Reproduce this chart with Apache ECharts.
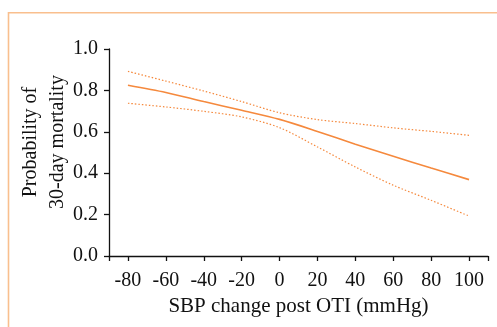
<!DOCTYPE html>
<html>
<head>
<meta charset="utf-8">
<script src="https://cdn.jsdelivr.net/npm/echarts@6/dist/echarts.min.js"></script>
<style>
  html, body { margin: 0; padding: 0; background: #fff; }
  #chart { width: 497px; height: 327px; }
</style>
</head>
<body>
<div id="chart"></div>
<script>
const sbpChange = [-80, -60, -40, -20, 0, 20, 40, 60, 80, 100];
const probability = [0.825, 0.790, 0.746, 0.704, 0.660, 0.602, 0.540, 0.482, 0.425, 0.369];
const upperCI = [0.892, 0.845, 0.797, 0.746, 0.692, 0.659, 0.640, 0.619, 0.602, 0.583];
const lowerCI = [0.738, 0.720, 0.699, 0.672, 0.620, 0.527, 0.430, 0.342, 0.269, 0.193];
const xTicks = [-90, -80, -60, -40, -20, 0, 20, 40, 60, 80, 100, 110];
const xLabels = [-80, -60, -40, -20, 0, 20, 40, 60, 80, 100];

const lineColor = '#f5893d';
const font = 'Liberation Serif';

const pairs = (ys) => sbpChange.map((x, i) => [x, ys[i]]);

const chart = echarts.init(document.getElementById('chart'));

chart.setOption({
  animation: false,
  backgroundColor: '#fff',
  grid: { left: 109, right: 9, top: 49, bottom: 71 },
  graphic: [
    // frame (top + left edge)
    {
      type: 'polyline',
      shape: { points: [[8.5, 327], [8.5, 12.7], [497, 12.7]] },
      style: { stroke: '#f9bf8e', lineWidth: 1.6, fill: null }
    },
    {
      type: 'text',
      x: 17, y: 142, rotation: Math.PI / 2,
      style: {
        text: 'Probability of\n30-day mortality',
        font: '20px "' + font + '"',
        fill: '#111',
        align: 'center',
        verticalAlign: 'top',
        lineHeight: 27
      }
    }
  ],
  xAxis: {
    type: 'value',
    min: -90,
    max: 110,
    splitLine: { show: false },
    axisLine: { onZero: false, lineStyle: { color: '#111', width: 1.3 } },
    axisTick: { customValues: xTicks, length: 5, lineStyle: { color: '#111', width: 1.3 } },
    axisLabel: {
      customValues: xLabels,
      color: '#111', fontFamily: font, fontSize: 20, margin: 15
    },
    name: 'SBP change post OTI (mmHg)',
    nameLocation: 'middle',
    nameGap: 40,
    nameTextStyle: { color: '#111', fontFamily: font, fontSize: 21 }
  },
  yAxis: {
    type: 'value',
    min: 0,
    max: 1,
    interval: 0.2,
    splitLine: { show: false },
    axisLine: { show: true, onZero: false, lineStyle: { color: '#111', width: 1.3 } },
    axisTick: { show: true, length: 5, lineStyle: { color: '#111', width: 1.3 } },
    axisLabel: {
      color: '#111', fontFamily: font, fontSize: 20, margin: 11,
      formatter: (v) => v.toFixed(1)
    }
  },
  series: [
    {
      type: 'line',
      data: pairs(upperCI),
      smooth: 0.3,
      showSymbol: false,
      lineStyle: { color: lineColor, width: 1.2, type: [1.5, 2] }
    },
    {
      type: 'line',
      data: pairs(probability),
      smooth: 0.3,
      showSymbol: false,
      lineStyle: { color: lineColor, width: 1.6 }
    },
    {
      type: 'line',
      data: pairs(lowerCI),
      smooth: 0.3,
      showSymbol: false,
      lineStyle: { color: lineColor, width: 1.2, type: [1.5, 2] }
    }
  ]
});
</script>
</body>
</html>
